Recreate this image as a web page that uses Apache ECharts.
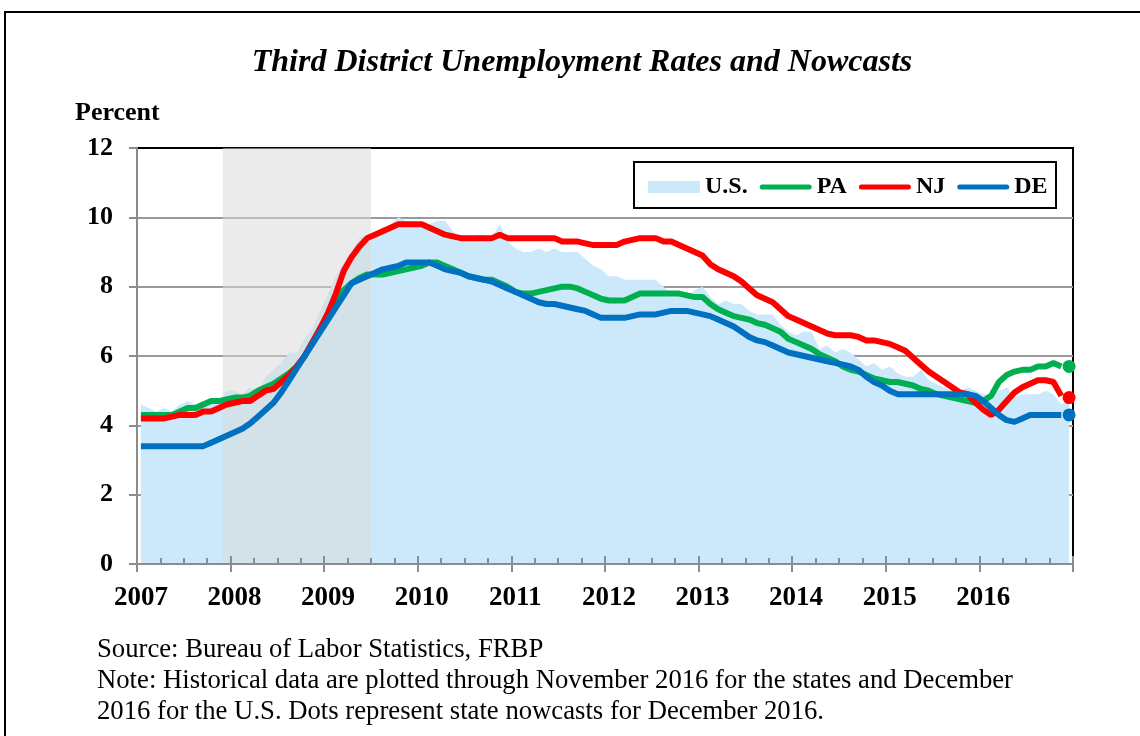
<!DOCTYPE html>
<html><head><meta charset="utf-8">
<script src="https://cdn.jsdelivr.net/npm/echarts@6/dist/echarts.min.js"></script>
<style>html,body{margin:0;padding:0;background:#fff}#c{width:1140px;height:736px}</style>
</head><body><div id="c"></div>
<script>
// ---- categories / tick labels ----
const yearLabels = ['2007','2008','2009','2010','2011','2012','2013','2014','2015','2016'];
const monthCodes = ['01','02','03','04','05','06','07','08','09','10','11','12'];
const yTicks = {min: 0, max: 12, interval: 2};
const recession = ['2007-12', '2009-06'];

// ---- U.S. unemployment rate (area), Jan 2007 - Dec 2016 ----
const us2007 = [4.6,4.5,4.4,4.5,4.4,4.6,4.7,4.6,4.7,4.7,4.7,5.0];
const us2008 = [5.0,4.9,5.1,5.0,5.4,5.6,5.8,6.1,6.1,6.5,6.8,7.3];
const us2009 = [7.8,8.3,8.7,9.0,9.4,9.5,9.5,9.6,9.8,10.0,9.9,9.9];
const us2010 = [9.8,9.8,9.9,9.9,9.6,9.4,9.4,9.5,9.5,9.4,9.8,9.3];
const us2011 = [9.1,9.0,9.0,9.1,9.0,9.1,9.0,9.0,9.0,8.8,8.6,8.5];
const us2012 = [8.3,8.3,8.2,8.2,8.2,8.2,8.2,8.0,7.8,7.8,7.7,7.9];
const us2013 = [8.0,7.7,7.5,7.6,7.5,7.5,7.3,7.2,7.2,7.2,6.9,6.7];
const us2014 = [6.6,6.7,6.7,6.2,6.3,6.1,6.2,6.1,5.9,5.7,5.8,5.6];
const us2015 = [5.7,5.5,5.4,5.4,5.6,5.3,5.2,5.1,5.0,5.0,5.1,5.0];
const us2016 = [4.9,4.9,5.0,5.1,4.8,4.9,4.9,4.9,5.0,4.9,4.6,4.7];

// ---- Pennsylvania, Jan 2007 - Nov 2016 ----
const pa2007 = [4.3,4.3,4.3,4.3,4.3,4.4,4.5,4.5,4.6,4.7,4.7,4.75];
const pa2008 = [4.8,4.8,4.85,5.0,5.1,5.2,5.35,5.5,5.7,6.0,6.4,6.8];
const pa2009 = [7.2,7.6,7.9,8.1,8.25,8.35,8.35,8.35,8.4,8.45,8.5,8.55];
const pa2010 = [8.6,8.7,8.7,8.6,8.5,8.4,8.3,8.25,8.2,8.2,8.1,8.0];
const pa2011 = [7.85,7.8,7.8,7.85,7.9,7.95,8.0,8.0,7.95,7.85,7.75,7.65];
const pa2012 = [7.6,7.6,7.6,7.7,7.8,7.8,7.8,7.8,7.8,7.8,7.75,7.7];
const pa2013 = [7.7,7.5,7.35,7.25,7.15,7.1,7.05,6.95,6.9,6.8,6.7,6.5];
const pa2014 = [6.4,6.3,6.2,6.05,5.95,5.85,5.7,5.6,5.55,5.45,5.35,5.3];
const pa2015 = [5.25,5.25,5.2,5.15,5.05,5.0,4.9,4.85,4.8,4.75,4.7,4.65];
const pa2016 = [4.7,4.85,5.25,5.45,5.55,5.6,5.6,5.7,5.7,5.8,5.7];

// ---- New Jersey, Jan 2007 - Nov 2016 ----
const nj2007 = [4.2,4.2,4.2,4.2,4.25,4.3,4.3,4.3,4.4,4.4,4.5,4.6];
const nj2008 = [4.65,4.7,4.7,4.85,5.0,5.05,5.25,5.45,5.7,6.0,6.4,6.8];
const nj2009 = [7.25,7.8,8.45,8.85,9.15,9.4,9.5,9.6,9.7,9.8,9.8,9.8];
const nj2010 = [9.8,9.7,9.6,9.5,9.45,9.4,9.4,9.4,9.4,9.4,9.5,9.4];
const nj2011 = [9.4,9.4,9.4,9.4,9.4,9.4,9.3,9.3,9.3,9.25,9.2,9.2];
const nj2012 = [9.2,9.2,9.3,9.35,9.4,9.4,9.4,9.3,9.3,9.2,9.1,9.0];
const nj2013 = [8.9,8.65,8.5,8.4,8.3,8.15,7.95,7.75,7.65,7.55,7.35,7.15];
const nj2014 = [7.05,6.95,6.85,6.75,6.65,6.6,6.6,6.6,6.55,6.45,6.45,6.4];
const nj2015 = [6.35,6.25,6.15,5.95,5.75,5.55,5.4,5.25,5.1,4.95,4.9,4.65];
const nj2016 = [4.45,4.3,4.45,4.7,4.95,5.1,5.2,5.3,5.3,5.25,4.85];

// ---- Delaware, Jan 2007 - Nov 2016 ----
const de2007 = [3.4,3.4,3.4,3.4,3.4,3.4,3.4,3.4,3.4,3.5,3.6,3.7];
const de2008 = [3.8,3.9,4.05,4.25,4.45,4.65,4.95,5.3,5.65,6.0,6.35,6.7];
const de2009 = [7.05,7.4,7.75,8.1,8.2,8.3,8.4,8.5,8.55,8.6,8.7,8.7];
const de2010 = [8.7,8.7,8.6,8.5,8.45,8.4,8.3,8.25,8.2,8.15,8.05,7.95];
const de2011 = [7.85,7.75,7.65,7.55,7.5,7.5,7.45,7.4,7.35,7.3,7.2,7.1];
const de2012 = [7.1,7.1,7.1,7.15,7.2,7.2,7.2,7.25,7.3,7.3,7.3,7.25];
const de2013 = [7.2,7.15,7.05,6.95,6.85,6.7,6.55,6.45,6.4,6.3,6.2,6.1];
const de2014 = [6.05,6.0,5.95,5.9,5.85,5.8,5.75,5.7,5.6,5.4,5.25,5.15];
const de2015 = [5.0,4.9,4.9,4.9,4.9,4.9,4.9,4.9,4.9,4.9,4.9,4.85];
const de2016 = [4.7,4.5,4.3,4.15,4.1,4.2,4.3,4.3,4.3,4.3,4.3];

// ---- December 2016 nowcasts (dots) ----
const paNowcast = 5.7;
const njNowcast = 4.8;
const deNowcast = 4.3;

// ---- build ----
const months = [];
yearLabels.forEach(y => monthCodes.forEach(m => months.push(y + '-' + m)));
const usRate = [].concat(us2007,us2008,us2009,us2010,us2011,us2012,us2013,us2014,us2015,us2016);
const paRate = [].concat(pa2007,pa2008,pa2009,pa2010,pa2011,pa2012,pa2013,pa2014,pa2015,pa2016);
const njRate = [].concat(nj2007,nj2008,nj2009,nj2010,nj2011,nj2012,nj2013,nj2014,nj2015,nj2016);
const deRate = [].concat(de2007,de2008,de2009,de2010,de2011,de2012,de2013,de2014,de2015,de2016);
const lastMonth = months[months.length - 1];
const recStart = months.indexOf(recession[0]);
const recEnd = months.indexOf(recession[1]) + 1;

const FONT = '"Liberation Serif", "Times New Roman", serif';
const GRAY = '#8c8c8c';
const C_US = '#cce9fb', C_PA = '#00b050', C_NJ = '#ff0000', C_DE = '#0070c0';
const lineIcon = 'path://M2.5,0H49.5A2.5,2.5,0,0,1,49.5,5H2.5A2.5,2.5,0,0,1,2.5,0Z';

const chart = echarts.init(document.getElementById('c'), null, {renderer: 'canvas'});
const monthCount = months.length;
chart.setOption({
  animation: false,
  backgroundColor: '#fff',
  grid: {left: 137, right: 67, top: 148, bottom: 172, show: true, borderColor: '#000', borderWidth: 2, backgroundColor: 'transparent'},
  xAxis: [
    {type: 'category', data: months, boundaryGap: true, z: 10,
     axisLine: {show: true, lineStyle: {color: GRAY, width: 2}},
     axisTick: {show: false},
     axisLabel: {interval: (i) => i % 12 === 0, formatter: (v) => v.slice(0, 4), margin: 21,
                 fontFamily: FONT, fontWeight: 'bold', fontSize: 27, color: '#000'},
     splitLine: {show: false}},
    {type: 'value', min: 0, max: monthCount, interval: 3, position: 'bottom', z: 10,
     axisLine: {show: false}, axisLabel: {show: false}, splitLine: {show: false},
     axisTick: {show: true, inside: true, length: 6, lineStyle: {color: GRAY, width: 2}}},
    {type: 'value', min: 0, max: monthCount, interval: 12, position: 'bottom', z: 10,
     axisLine: {show: false}, axisLabel: {show: false}, splitLine: {show: false},
     axisTick: {show: true, inside: false, length: 8, lineStyle: {color: GRAY, width: 2}}},
    {type: 'value', min: 0, max: monthCount, interval: 12, position: 'bottom', z: 10,
     axisLine: {show: false}, axisLabel: {show: false}, splitLine: {show: false},
     axisTick: {show: true, inside: true, length: 8, lineStyle: {color: GRAY, width: 2}}}
  ],
  yAxis: {type: 'value', min: yTicks.min, max: yTicks.max, interval: yTicks.interval,
     axisLine: {show: true, lineStyle: {color: GRAY, width: 2}},
     axisTick: {show: true, inside: false, length: 8, lineStyle: {color: GRAY, width: 2}},
     axisLabel: {margin: 24, fontFamily: FONT, fontWeight: 'bold', fontSize: 26, color: '#000'},
     splitLine: {show: true, showMinLine: false, showMaxLine: false, lineStyle: {color: '#9a9a9a', width: 2}}},
  legend: {
    left: 648, top: 175, itemWidth: 52, itemHeight: 12, itemGap: 12, padding: 0,
    itemStyle: {borderWidth: 0},
    textStyle: {fontFamily: FONT, fontWeight: 'bold', fontSize: 24, color: '#000', lineHeight: 24},
    selectedMode: false,
    data: [{name: 'U.S.', icon: 'rect'}, {name: 'PA', icon: lineIcon}, {name: 'NJ', icon: lineIcon}, {name: 'DE', icon: lineIcon}]
  },
  graphic: [
    {type: 'rect', shape: {x: 5, y: 12, width: 1300, height: 900}, style: {fill: 'none', stroke: '#000', lineWidth: 2}, silent: true},
    {type: 'rect', shape: {x: 634, y: 162, width: 422, height: 46}, style: {fill: 'none', stroke: '#000', lineWidth: 2}, z: 20, silent: true},
    {type: 'text', x: 582, y: 63, style: {text: 'Third District Unemployment Rates and Nowcasts', font: 'italic bold 32px ' + FONT, fill: '#000', textAlign: 'center', textVerticalAlign: 'middle'}},
    {type: 'text', x: 75, y: 113, style: {text: 'Percent', font: 'bold 26px ' + FONT, fill: '#000', textAlign: 'left', textVerticalAlign: 'middle'}},
    {type: 'text', x: 97, y: 650, style: {text: 'Source: Bureau of Labor Statistics, FRBP', font: '26.7px ' + FONT, fill: '#000', textAlign: 'left', textVerticalAlign: 'middle'}},
    {type: 'text', x: 97, y: 681, style: {text: 'Note: Historical data are plotted through November 2016 for the states and December', font: '26.7px ' + FONT, fill: '#000', textAlign: 'left', textVerticalAlign: 'middle'}},
    {type: 'text', x: 97, y: 712, style: {text: '2016 for the U.S. Dots represent state nowcasts for December 2016.', font: '26.7px ' + FONT, fill: '#000', textAlign: 'left', textVerticalAlign: 'middle'}}
  ],
  series: [
    {name: 'U.S.', type: 'line', data: usRate, symbol: 'none', z: 2, color: C_US,
     lineStyle: {width: 0, color: C_US}, areaStyle: {color: C_US, opacity: 1}},
    {name: 'recession', type: 'custom', xAxisIndex: 1, yAxisIndex: 0, z: 3, silent: true,
     encode: {x: [0, 1]}, data: [[recStart, recEnd]],
     renderItem: function (params, api) {
       const p0 = api.coord([api.value(0), yTicks.max]);
       const p1 = api.coord([api.value(1), yTicks.min]);
       return {type: 'rect', shape: {x: p0[0], y: p0[1], width: p1[0] - p0[0], height: p1[1] - p0[1]},
               style: {fill: 'rgba(217,217,217,0.53)'}};
     }},
    {name: 'PA', type: 'line', data: paRate, symbol: 'none', z: 4, color: C_PA, lineStyle: {width: 6, color: C_PA}},
    {name: 'NJ', type: 'line', data: njRate, symbol: 'none', z: 4, color: C_NJ, lineStyle: {width: 6, color: C_NJ}},
    {name: 'DE', type: 'line', data: deRate, symbol: 'none', z: 4, color: C_DE, lineStyle: {width: 6, color: C_DE}},
    {name: 'PA nowcast', type: 'scatter', data: [[lastMonth, paNowcast]], symbolSize: 13, z: 5, itemStyle: {color: C_PA, opacity: 1}},
    {name: 'NJ nowcast', type: 'scatter', data: [[lastMonth, njNowcast]], symbolSize: 13, z: 5, itemStyle: {color: C_NJ, opacity: 1}},
    {name: 'DE nowcast', type: 'scatter', data: [[lastMonth, deNowcast]], symbolSize: 13, z: 5, itemStyle: {color: C_DE, opacity: 1}}
  ]
});
</script>
</body></html>
